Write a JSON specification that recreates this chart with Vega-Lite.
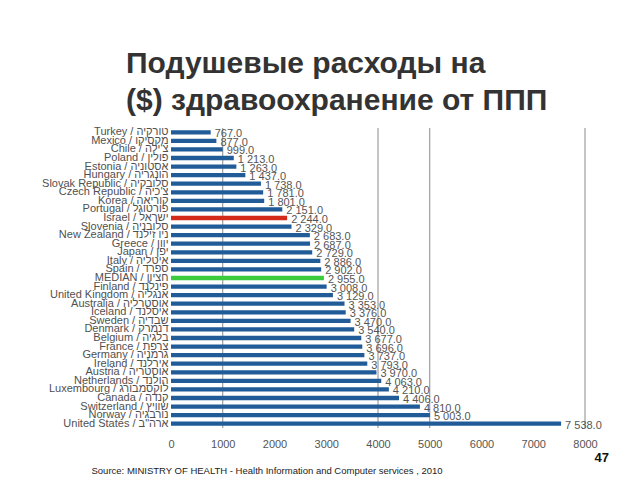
{
  "$schema": "https://vega.github.io/schema/vega-lite/v6.json",
  "width": 414,
  "height": 300,
  "autosize": {"type": "none"},
  "padding": {"left": 171, "top": 128, "right": 55, "bottom": 52},
  "background": "white",
  "title": {
    "text": ["Подушевые расходы на", "($) здравоохранение от ППП"],
    "anchor": "start",
    "frame": "group",
    "dx": -45,
    "offset": 10,
    "fontSize": 30,
    "lineHeight": 37,
    "font": "Liberation Sans",
    "fontWeight": "bold",
    "color": "#333333"
  },
  "datasets": {
    "spend": [
      {"name": "Turkey / טורקיה", "value": 767},
      {"name": "Mexico / מקסיקו", "value": 877},
      {"name": "Chile / צ'ילה", "value": 999},
      {"name": "Poland / פולין", "value": 1213},
      {"name": "Estonia / אסטוניה", "value": 1263},
      {"name": "Hungary / הונגריה", "value": 1437},
      {"name": "Slovak Republic / סלובקיה", "value": 1738},
      {"name": "Czech Republic / צ'כיה", "value": 1781},
      {"name": "Korea / קוריאה", "value": 1801},
      {"name": "Portugal / פורטוגל", "value": 2151},
      {"name": "Israel / ישראל", "value": 2244},
      {"name": "Slovenia / סלובניה", "value": 2329},
      {"name": "New Zealand / ניו זילנד", "value": 2683},
      {"name": "Greece / יוון", "value": 2687},
      {"name": "Japan / יפן", "value": 2729},
      {"name": "Italy / איטליה", "value": 2886},
      {"name": "Spain / ספרד", "value": 2902},
      {"name": "MEDIAN / חציון", "value": 2955},
      {"name": "Finland / פינלנד", "value": 3008},
      {"name": "United Kingdom / אנגליה", "value": 3129},
      {"name": "Australia / אוסטרליה", "value": 3353},
      {"name": "Iceland / איסלנד", "value": 3376},
      {"name": "Sweden / שבדיה", "value": 3470},
      {"name": "Denmark / דנמרק", "value": 3540},
      {"name": "Belgium / בלגיה", "value": 3677},
      {"name": "France / צרפת", "value": 3696},
      {"name": "Germany / גרמניה", "value": 3737},
      {"name": "Ireland / אירלנד", "value": 3793},
      {"name": "Austria / אוסטריה", "value": 3970},
      {"name": "Netherlands / הולנד", "value": 4063},
      {"name": "Luxembourg / לוקסמבורג", "value": 4210},
      {"name": "Canada / קנדה", "value": 4406},
      {"name": "Switzerland / שוויץ", "value": 4810},
      {"name": "Norway / נורבגיה", "value": 5003},
      {"name": "United States / ארה\"ב", "value": 7538}
    ],
    "gridlines": [
      {"value": 1000},
      {"value": 4000},
      {"value": 5000},
      {"value": 8000}
    ]
  },
  "layer": [
    {
      "data": {"name": "gridlines"},
      "mark": {"type": "rule", "color": "#8a8a8a", "strokeWidth": 1},
      "encoding": {
        "x": {"field": "value", "type": "quantitative", "scale": {"domain": [0, 8000], "nice": false}}
      }
    },
    {
      "data": {"name": "spend"},
      "mark": {"type": "bar"},
      "encoding": {
        "y": {
          "field": "name",
          "type": "nominal",
          "sort": null,
          "scale": {"paddingInner": 0.5, "paddingOuter": 0.25},
          "axis": {
            "title": "47",
            "titleAngle": 0,
            "titleX": 423,
            "titleY": 333,
            "titleAlign": "left",
            "titleBaseline": "alphabetic",
            "titleFontSize": 13,
            "titleFontWeight": "bold",
            "titleFont": "Liberation Sans",
            "titleColor": "#111111",
            "ticks": false,
            "domain": false,
            "labelPadding": 3,
            "labelFontSize": 11,
            "labelFont": "Liberation Sans",
            "labelColor": "#505050",
            "labelLimit": 0
          }
        },
        "x": {
          "field": "value",
          "type": "quantitative",
          "scale": {"domain": [0, 8000], "nice": false},
          "axis": {
            "title": "Source: MINISTRY OF HEALTH - Health Information and Computer services , 2010",
            "titleX": -80,
            "titleY": 45,
            "titleAlign": "left",
            "titleBaseline": "alphabetic",
            "titleFontSize": 9.5,
            "titleFontWeight": "normal",
            "titleFont": "Liberation Sans",
            "titleColor": "#222222",
            "values": [0, 1000, 2000, 3000, 4000, 5000, 6000, 7000, 8000],
            "format": "d",
            "labelFlush": false,
            "labelOverlap": false,
            "ticks": false,
            "domain": false,
            "grid": false,
            "labelPadding": 10,
            "labelFontSize": 11,
            "labelFont": "Liberation Sans",
            "labelColor": "#555555"
          }
        },
        "color": {
          "condition": [
            {"test": "indexof(datum.name, 'Israel') == 0", "value": "#D42A1C"},
            {"test": "indexof(datum.name, 'MEDIAN') == 0", "value": "#3CCB3C"}
          ],
          "value": "#215B98"
        }
      }
    },
    {
      "data": {"name": "spend"},
      "mark": {
        "type": "text",
        "align": "left",
        "baseline": "middle",
        "dx": 4,
        "dy": 2,
        "fontSize": 11,
        "font": "Liberation Sans",
        "color": "#555555"
      },
      "encoding": {
        "y": {"field": "name", "type": "nominal", "sort": null},
        "x": {"field": "value", "type": "quantitative"},
        "text": {"field": "value", "type": "quantitative", "format": ",.1f"}
      }
    }
  ],
  "config": {
    "view": {"stroke": null},
    "locale": {
      "number": {"decimal": ".", "thousands": " ", "grouping": [3], "currency": ["$", ""]}
    }
  }
}
